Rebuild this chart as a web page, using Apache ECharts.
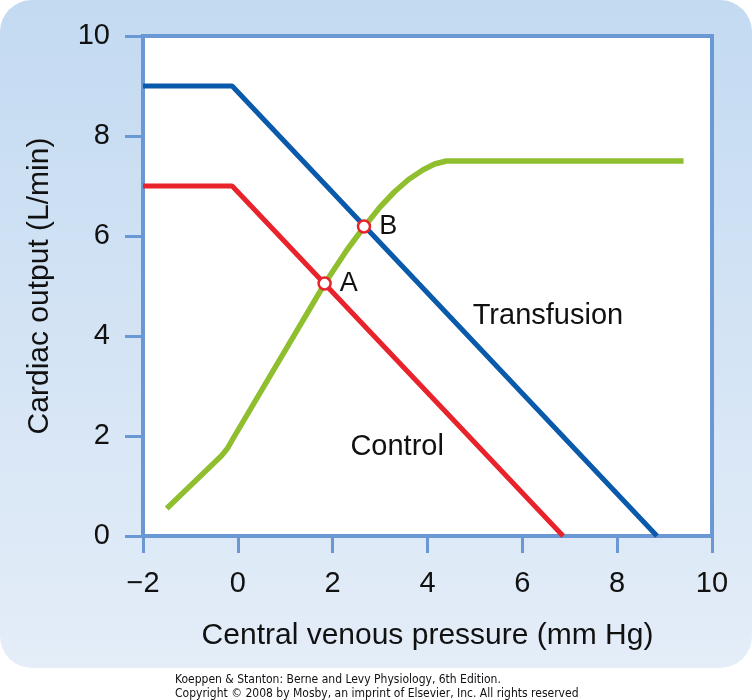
<!DOCTYPE html>
<html>
<head>
<meta charset="utf-8">
<script src="https://cdn.jsdelivr.net/npm/echarts@6/dist/echarts.min.js"></script>
<style>html,body{margin:0;padding:0;background:#fff;}#c{width:752px;height:700px;}</style>
</head>
<body>
<div id="c"></div>
<script>
// ---- data ----
var xTicks = [-2, 0, 2, 4, 6, 8, 10];
var yTicks = [0, 2, 4, 6, 8, 10];
var controlCurve = [[-2, 7], [-0.12, 7], [6.86, 0]];
var transfusionCurve = [[-2, 9], [-0.12, 9], [8.84, 0]];
var venousReturnCurve = [[-1.5, 0.55], [-0.35, 1.6], [-0.22, 1.75], [-0.1, 1.95], [1.84, 5.06], [2.3, 5.72], [2.66, 6.18], [3.0, 6.58], [3.3, 6.88], [3.6, 7.13], [3.9, 7.32], [4.15, 7.44], [4.4, 7.5], [9.4, 7.5]];
var equilibriumPoints = [[1.83, 5.05], [2.66, 6.19]];
var equilibriumNames = ['A', 'B'];
var curveNames = [['Transfusion', 6.54, 4.4], ['Control', 3.36, 1.78]];
var xName = 'Central venous pressure (mm Hg)';
var yName = 'Cardiac output (L/min)';
var credit = 'Koeppen & Stanton: Berne and Levy Physiology, 6th Edition.\nCopyright \u00a9 2008 by Mosby, an imprint of Elsevier, Inc. All rights reserved';

var AX = '#6a98d4';
var TXT = '#111111';
var FONT = '"Liberation Sans", Arial, Helvetica, sans-serif';
var chart = echarts.init(document.getElementById('c'), null, {renderer: 'canvas'});
function fmt(v) { return v < 0 ? '\u2212' + Math.abs(v) : String(v); }
chart.setOption({
  animation: false,
  backgroundColor: '#ffffff',
  title: {
    text: credit, left: 170, top: 668,
    textStyle: {fontFamily: '"DejaVu Sans Condensed", "Liberation Sans Narrow", sans-serif', fontSize: 12, fontWeight: 'normal', color: '#111', lineHeight: 14}
  },
  graphic: [{
    type: 'rect', z: -100, silent: true,
    shape: {x: 0, y: 0, width: 752, height: 668, r: 32},
    style: {fill: new echarts.graphic.LinearGradient(0, 0, 0, 1, [
      {offset: 0, color: '#c3daf1'}, {offset: 1, color: '#e4edf8'}])}
  }],
  grid: {left: 143, top: 36, width: 569, height: 500, show: true, backgroundColor: '#ffffff', borderColor: AX, borderWidth: 4, z: 0},
  xAxis: {
    type: 'value', min: -2, max: 10, interval: 2,
    name: xName, nameLocation: 'middle', nameGap: 85,
    nameTextStyle: {fontFamily: FONT, fontSize: 30, color: TXT},
    axisLine: {show: true, onZero: false, lineStyle: {color: AX, width: 4}},
    axisTick: {show: true, length: 17, lineStyle: {color: AX, width: 3}},
    axisLabel: {formatter: fmt, margin: 33, fontFamily: FONT, fontSize: 29, color: TXT},
    splitLine: {show: false}
  },
  yAxis: {
    type: 'value', min: 0, max: 10, interval: 2,
    name: yName, nameLocation: 'middle', nameGap: 88, nameRotate: 90,
    nameTextStyle: {fontFamily: FONT, fontSize: 30, color: TXT},
    axisLine: {show: true, onZero: false, lineStyle: {color: AX, width: 4}},
    axisTick: {show: true, length: 18, lineStyle: {color: AX, width: 3}},
    axisLabel: {formatter: fmt, margin: 33, fontFamily: FONT, fontSize: 29, color: TXT},
    splitLine: {show: false}
  },
  series: [
    {type: 'line', name: 'Transfusion', data: transfusionCurve, showSymbol: false, symbol: 'none',
     lineStyle: {color: '#0a5aab', width: 5}, z: 3},
    {type: 'line', name: 'Control', data: controlCurve, showSymbol: false, symbol: 'none',
     lineStyle: {color: '#e8232b', width: 5}, z: 3},
    {type: 'line', name: 'Venous return', data: venousReturnCurve, showSymbol: false, symbol: 'none',
     lineStyle: {color: '#8fbe2f', width: 5.5, join: 'round', cap: 'butt'}, z: 4},
    {type: 'scatter', data: equilibriumPoints.map(function (p, i) { return {value: p, name: equilibriumNames[i]}; }),
     symbol: 'circle', symbolSize: 12, z: 5,
     itemStyle: {color: '#ffffff', borderColor: '#e8232b', borderWidth: 2.5, opacity: 1},
     label: {show: true, position: 'right', distance: 8, formatter: '{b}', fontFamily: FONT, fontSize: 27, color: TXT}},
    {type: 'scatter', data: curveNames.map(function (c) { return {value: [c[1], c[2]], name: c[0]}; }),
     symbol: 'circle', symbolSize: 1, z: 5, itemStyle: {color: 'rgba(0,0,0,0)', opacity: 1},
     label: {show: true, position: 'inside', formatter: '{b}', fontFamily: FONT, fontSize: 29, color: TXT, textBorderWidth: 0}}
  ]
});
</script>
</body>
</html>
